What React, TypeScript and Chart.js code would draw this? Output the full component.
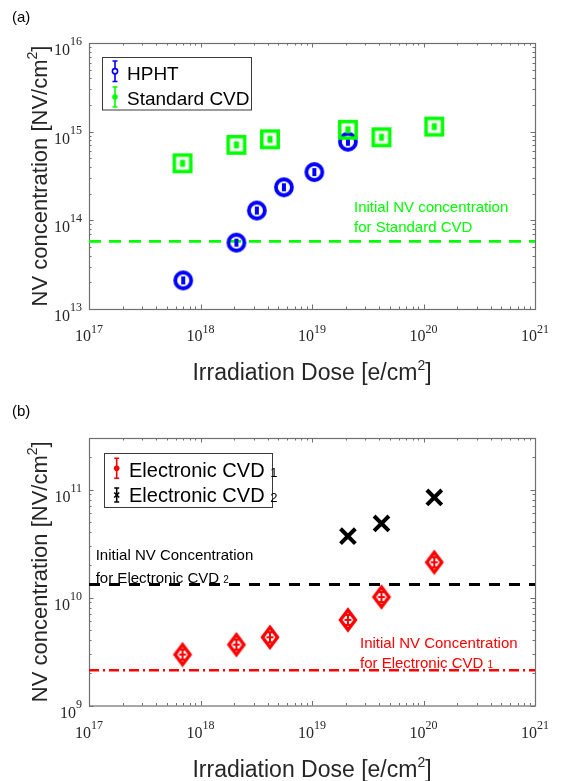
import React, { useEffect, useRef } from "react";
import { Chart, registerables } from "chart.js";
Chart.register(...registerables);

// ---------------- data ----------------
const hphtDose = [7.0e17, 2.1e18, 3.2e18, 5.6e18, 1.05e19, 2.1e19];
const hphtNV = [2.1e13, 5.6e13, 1.29e14, 2.36e14, 3.5e14, 7.7e14];
const stdCvdDose = [6.9e17, 2.1e18, 4.2e18, 2.1e19, 4.2e19, 1.25e20];
const stdCvdNV = [4.4e14, 7.1e14, 8.2e14, 1.05e15, 8.65e14, 1.14e15];
const stdCvdInitialNV = 5.8e13;

const ecvd1Dose = [6.9e17, 2.1e18, 4.2e18, 2.1e19, 4.2e19, 1.25e20];
const ecvd1NV = [2.96e9, 3.66e9, 4.28e9, 6.2e9, 1.01e10, 2.12e10];
const ecvd2Dose = [2.1e19, 4.2e19, 1.25e20];
const ecvd2NV = [3.7e10, 4.85e10, 8.45e10];
const ecvd2InitialNV = 1.32e10;
const ecvd1InitialNV = 2.12e9;

const doseRange = [1e17, 1e21];
const nvRangeA = [1e13, 1e16];
const nvRangeB = [1e9, 3e11];
const doseTickExps = [17, 18, 19, 20, 21];
const nvTickExpsA = [13, 14, 15, 16];
const nvTickExpsB = [9, 10, 11];

// ---------------- styles ----------------
const SANS = '"Liberation Sans", Arial, Helvetica, sans-serif';
const SERIF = '"Liberation Serif", "Times New Roman", serif';
const AXIS_TXT = "#262626";
const BOX = "#6f6f6f";
const BLUE = "#0000ff";
const GREEN = "#00ff00";
const RED = "#ff0000";
const BLACK = "#000000";

type Part = { t: string; size: number; dy?: number; family?: string };

function drawParts(
  ctx: CanvasRenderingContext2D,
  parts: Part[],
  x: number,
  y: number,
  align: "left" | "center" | "right",
  color: string
) {
  const widths = parts.map((p) => {
    ctx.font = `${p.size}px ${p.family ?? SANS}`;
    return ctx.measureText(p.t).width;
  });
  const total = widths.reduce((a, b) => a + b, 0);
  let cx = align === "left" ? x : align === "center" ? x - total / 2 : x - total;
  ctx.fillStyle = color;
  ctx.textAlign = "left";
  ctx.textBaseline = "alphabetic";
  parts.forEach((p, i) => {
    ctx.font = `${p.size}px ${p.family ?? SANS}`;
    ctx.fillText(p.t, cx, y + (p.dy ?? 0));
    cx += widths[i];
  });
}

function makeCanvas(size: number) {
  const c = document.createElement("canvas");
  c.width = size;
  c.height = size;
  return c;
}

function blueMarker() {
  const c = makeCanvas(26);
  const g = c.getContext("2d")!;
  g.strokeStyle = BLUE;
  g.lineWidth = 3.8;
  g.beginPath();
  g.arc(13, 13, 8, 0, Math.PI * 2);
  g.stroke();
  g.fillStyle = BLUE;
  g.fillRect(11, 9, 4, 8);
  return c;
}

function greenMarker() {
  const c = makeCanvas(26);
  const g = c.getContext("2d")!;
  g.strokeStyle = GREEN;
  g.lineWidth = 3.5;
  g.strokeRect(4.8, 4.8, 16.4, 16.4);
  g.fillStyle = GREEN;
  g.fillRect(10.5, 9.5, 5, 7);
  return c;
}

function redMarker() {
  const c = makeCanvas(28);
  const g = c.getContext("2d")!;
  g.strokeStyle = RED;
  g.lineWidth = 3.4;
  g.beginPath();
  g.moveTo(14, 14 - 10);
  g.lineTo(14 + 7.5, 14);
  g.lineTo(14, 14 + 10);
  g.lineTo(14 - 7.5, 14);
  g.closePath();
  g.stroke();
  g.lineWidth = 2;
  g.beginPath();
  g.moveTo(14, 8.5);
  g.lineTo(14, 19.5);
  g.moveTo(11.5, 9);
  g.lineTo(16.5, 9);
  g.moveTo(11.5, 19);
  g.lineTo(16.5, 19);
  g.moveTo(10.5, 14);
  g.lineTo(17.5, 14);
  g.stroke();
  return c;
}

type LegendItem = {
  color: string;
  marker: "circle" | "dot" | "x";
  parts: Part[];
  y0: number;
  y1: number;
  baseline: number;
};

type Spec = {
  padTop: number;
  xAxisH: number;
  yRange: number[];
  yExps: number[];
  panelLabel: string;
  panelBaseline: number;
  xTitleBaseline: number;
  legendBox: { x: number; y: number; w: number; h: number };
  legendSymX: number;
  legendTextX: number;
  legendItems: LegendItem[];
  notes: { x: number; y: number; color: string; parts: Part[] }[];
  datasets: any[];
};

function drawLegendSymbol(ctx: CanvasRenderingContext2D, x: number, it: LegendItem) {
  ctx.save();
  ctx.strokeStyle = it.color;
  ctx.fillStyle = it.color;
  ctx.lineWidth = 1.6;
  ctx.beginPath();
  ctx.moveTo(x, it.y0);
  ctx.lineTo(x, it.y1);
  ctx.moveTo(x - 2.5, it.y0);
  ctx.lineTo(x + 2.5, it.y0);
  ctx.moveTo(x - 2.5, it.y1);
  ctx.lineTo(x + 2.5, it.y1);
  ctx.stroke();
  const cy = (it.y0 + it.y1) / 2;
  if (it.marker === "circle") {
    ctx.fillStyle = "#ffffff";
    ctx.beginPath();
    ctx.arc(x, cy, 2.6, 0, Math.PI * 2);
    ctx.fill();
    ctx.stroke();
  } else if (it.marker === "dot") {
    ctx.beginPath();
    ctx.arc(x, cy, 2.8, 0, Math.PI * 2);
    ctx.fill();
  } else {
    ctx.lineWidth = 1.6;
    ctx.beginPath();
    ctx.moveTo(x - 2.5, cy - 2.5);
    ctx.lineTo(x + 2.5, cy + 2.5);
    ctx.moveTo(x + 2.5, cy - 2.5);
    ctx.lineTo(x - 2.5, cy + 2.5);
    ctx.stroke();
  }
  ctx.restore();
}

function makeDecor(spec: Spec) {
  return {
    id: "decor",
    beforeDatasetsDraw(chart: any) {
      const { ctx, chartArea: a } = chart;
      const xs = chart.scales.x;
      const ys = chart.scales.y;
      ctx.save();
      ctx.strokeStyle = BOX;
      ctx.lineWidth = 1.2;
      ctx.strokeRect(a.left + 0.5, a.top + 0.5, a.right - a.left, a.bottom - a.top);
      ctx.lineWidth = 1;
      ctx.beginPath();
      const [xmin, xmax] = doseRange;
      for (let e = doseTickExps[0]; e <= doseTickExps[doseTickExps.length - 1]; e++) {
        for (let m = 1; m <= 9; m++) {
          const v = m * Math.pow(10, e);
          if (v < xmin * 0.999 || v > xmax * 1.001) continue;
          const px = Math.round(xs.getPixelForValue(v)) + 0.5;
          const len = m === 1 ? 4.5 : 2.5;
          ctx.moveTo(px, a.bottom);
          ctx.lineTo(px, a.bottom - len);
          ctx.moveTo(px, a.top);
          ctx.lineTo(px, a.top + len);
        }
      }
      const [ymin, ymax] = spec.yRange;
      const e0 = Math.floor(Math.log10(ymin));
      const e1 = Math.ceil(Math.log10(ymax));
      for (let e = e0; e <= e1; e++) {
        for (let m = 1; m <= 9; m++) {
          const v = m * Math.pow(10, e);
          if (v < ymin * 0.999 || v > ymax * 0.999) continue;
          const py = Math.round(ys.getPixelForValue(v)) + 0.5;
          const len = m === 1 ? 4.5 : 2.5;
          ctx.moveTo(a.left, py);
          ctx.lineTo(a.left + len, py);
          ctx.moveTo(a.right, py);
          ctx.lineTo(a.right - len, py);
        }
      }
      ctx.stroke();
      ctx.restore();
    },
    afterDraw(chart: any) {
      const { ctx, chartArea: a } = chart;
      const xs = chart.scales.x;
      const ys = chart.scales.y;
      ctx.save();
      // tick labels
      doseTickExps.forEach((e) => {
        const px = xs.getPixelForValue(Math.pow(10, e));
        drawParts(
          ctx,
          [
            { t: "10", size: 16, family: SERIF },
            { t: String(e), size: 12, family: SERIF, dy: -8.5 },
          ],
          px,
          a.bottom + 32,
          "center",
          AXIS_TXT
        );
      });
      spec.yExps.forEach((e) => {
        const py = ys.getPixelForValue(Math.pow(10, e));
        drawParts(
          ctx,
          [
            { t: "10", size: 16, family: SERIF },
            { t: String(e), size: 12, family: SERIF, dy: -10 },
          ],
          a.left - 7,
          py + 12,
          "right",
          AXIS_TXT
        );
      });
      // axis titles
      drawParts(
        ctx,
        [
          { t: "Irradiation Dose [e/cm", size: 23 },
          { t: "2", size: 14, dy: -10 },
          { t: "]", size: 23 },
        ],
        (a.left + a.right) / 2,
        spec.xTitleBaseline,
        "center",
        AXIS_TXT
      );
      ctx.save();
      ctx.translate(47, (a.top + a.bottom) / 2);
      ctx.rotate(-Math.PI / 2);
      drawParts(
        ctx,
        [
          { t: "NV concentration [NV/cm", size: 22 },
          { t: "2", size: 14, dy: -10 },
          { t: "]", size: 22 },
        ],
        0,
        0,
        "center",
        AXIS_TXT
      );
      ctx.restore();
      // panel label
      drawParts(ctx, [{ t: spec.panelLabel, size: 15 }], 12, spec.panelBaseline, "left", BLACK);
      // legend
      const b = spec.legendBox;
      ctx.fillStyle = "#ffffff";
      ctx.fillRect(b.x, b.y, b.w, b.h);
      ctx.strokeStyle = "#3a3a3a";
      ctx.lineWidth = 1;
      ctx.strokeRect(b.x, b.y, b.w, b.h);
      spec.legendItems.forEach((it) => {
        drawLegendSymbol(ctx, spec.legendSymX, it);
        drawParts(ctx, it.parts, spec.legendTextX, it.baseline, "left", BLACK);
      });
      // annotations
      spec.notes.forEach((n) => drawParts(ctx, n.parts, n.x, n.y, "left", n.color));
      ctx.restore();
    },
  };
}

function pts(xs: number[], ys: number[]) {
  return xs.map((x, i) => ({ x, y: ys[i] }));
}

function hline(v: number) {
  return [
    { x: doseRange[0], y: v },
    { x: doseRange[1], y: v },
  ];
}

function buildChart(canvas: HTMLCanvasElement, spec: Spec) {
  return new Chart(canvas, {
    type: "scatter",
    data: { datasets: spec.datasets },
    plugins: [makeDecor(spec)],
    options: {
      animation: false,
      responsive: false,
      events: [],
      layout: { padding: { top: spec.padTop, right: 26, left: 0, bottom: 0 } },
      plugins: { legend: { display: false }, tooltip: { enabled: false } },
      scales: {
        x: {
          type: "logarithmic",
          min: doseRange[0],
          max: doseRange[1],
          ticks: { display: false },
          grid: { display: false },
          border: { display: false },
          afterFit: (s: any) => {
            s.height = spec.xAxisH;
          },
        },
        y: {
          type: "logarithmic",
          min: spec.yRange[0],
          max: spec.yRange[1],
          ticks: { display: false },
          grid: { display: false },
          border: { display: false },
          afterFit: (s: any) => {
            s.width = 89;
          },
        },
      },
    } as any,
  });
}

export default function App() {
  const refA = useRef<HTMLCanvasElement>(null);
  const refB = useRef<HTMLCanvasElement>(null);

  useEffect(() => {
    const specA: Spec = {
      padTop: 43,
      xAxisH: 81,
      yRange: nvRangeA,
      yExps: nvTickExpsA,
      panelLabel: "(a)",
      panelBaseline: 22,
      xTitleBaseline: 380,
      legendBox: { x: 102.5, y: 57.5, w: 149, h: 52.5 },
      legendSymX: 115,
      legendTextX: 127,
      legendItems: [
        { color: BLUE, marker: "circle", parts: [{ t: "HPHT", size: 19 }], y0: 61, y1: 81.5, baseline: 80 },
        { color: GREEN, marker: "dot", parts: [{ t: "Standard CVD", size: 19 }], y0: 87, y1: 107, baseline: 105 },
      ],
      notes: [
        { x: 354, y: 211.7, color: GREEN, parts: [{ t: "Initial NV concentration", size: 15 }] },
        { x: 354, y: 231.7, color: GREEN, parts: [{ t: "for Standard CVD", size: 15 }] },
      ],
      datasets: [
        {
          label: "Standard CVD",
          data: pts(stdCvdDose, stdCvdNV),
          pointStyle: greenMarker(),
          order: 0,
        },
        {
          label: "HPHT",
          data: pts(hphtDose, hphtNV),
          pointStyle: blueMarker(),
          order: 1,
        },
        {
          label: "Initial NV concentration for Standard CVD",
          data: hline(stdCvdInitialNV),
          showLine: true,
          pointRadius: 0,
          borderColor: GREEN,
          borderWidth: 2.8,
          borderDash: [12, 8],
          order: 2,
        },
      ],
    };

    const specB: Spec = {
      padTop: 48,
      xAxisH: 75.5,
      yRange: nvRangeB,
      yExps: nvTickExpsB,
      panelLabel: "(b)",
      panelBaseline: 26,
      xTitleBaseline: 386.5,
      legendBox: { x: 104.5, y: 63.5, w: 168, h: 54 },
      legendSymX: 116.7,
      legendTextX: 129,
      legendItems: [
        {
          color: RED,
          marker: "dot",
          parts: [
            { t: "Electronic CVD ", size: 20 },
            { t: "1", size: 13 },
          ],
          y0: 68.3,
          y1: 88.3,
          baseline: 87.3,
        },
        {
          color: BLACK,
          marker: "x",
          parts: [
            { t: "Electronic CVD ", size: 20 },
            { t: "2", size: 13 },
          ],
          y0: 98,
          y1: 112,
          baseline: 111.7,
        },
      ],
      notes: [
        { x: 95.7, y: 170, color: BLACK, parts: [{ t: "Initial NV Concentration", size: 15 }] },
        {
          x: 95.7,
          y: 192.5,
          color: BLACK,
          parts: [
            { t: "for Electronic CVD ", size: 15 },
            { t: "2", size: 10 },
          ],
        },
        { x: 360, y: 258.3, color: RED, parts: [{ t: "Initial NV Concentration", size: 15 }] },
        {
          x: 360,
          y: 277.7,
          color: RED,
          parts: [
            { t: "for Electronic CVD ", size: 15 },
            { t: "1", size: 10 },
          ],
        },
      ],
      datasets: [
        {
          label: "Electronic CVD 2",
          data: pts(ecvd2Dose, ecvd2NV),
          pointStyle: "crossRot",
          pointRadius: 10.5,
          borderColor: BLACK,
          borderWidth: 4,
          order: 0,
        },
        {
          label: "Electronic CVD 1",
          data: pts(ecvd1Dose, ecvd1NV),
          pointStyle: redMarker(),
          order: 1,
        },
        {
          label: "Initial NV Concentration for Electronic CVD 2",
          data: hline(ecvd2InitialNV),
          showLine: true,
          pointRadius: 0,
          borderColor: BLACK,
          borderWidth: 2.8,
          borderDash: [11, 9],
          order: 2,
        },
        {
          label: "Initial NV Concentration for Electronic CVD 1",
          data: hline(ecvd1InitialNV),
          showLine: true,
          pointRadius: 0,
          borderColor: RED,
          borderWidth: 2.6,
          borderDash: [10, 4, 2, 4],
          order: 3,
        },
      ],
    };

    const ca = buildChart(refA.current!, specA);
    const cb = buildChart(refB.current!, specB);
    return () => {
      ca.destroy();
      cb.destroy();
    };
  }, []);

  return (
    <div style={{ position: "absolute", left: 0, top: 0, width: 561, height: 781, background: "#fff" }}>
      <canvas ref={refA} width={561} height={390} style={{ position: "absolute", left: 0, top: 0, display: "block" }} />
      <canvas ref={refB} width={561} height={391} style={{ position: "absolute", left: 0, top: 390, display: "block" }} />
    </div>
  );
}
